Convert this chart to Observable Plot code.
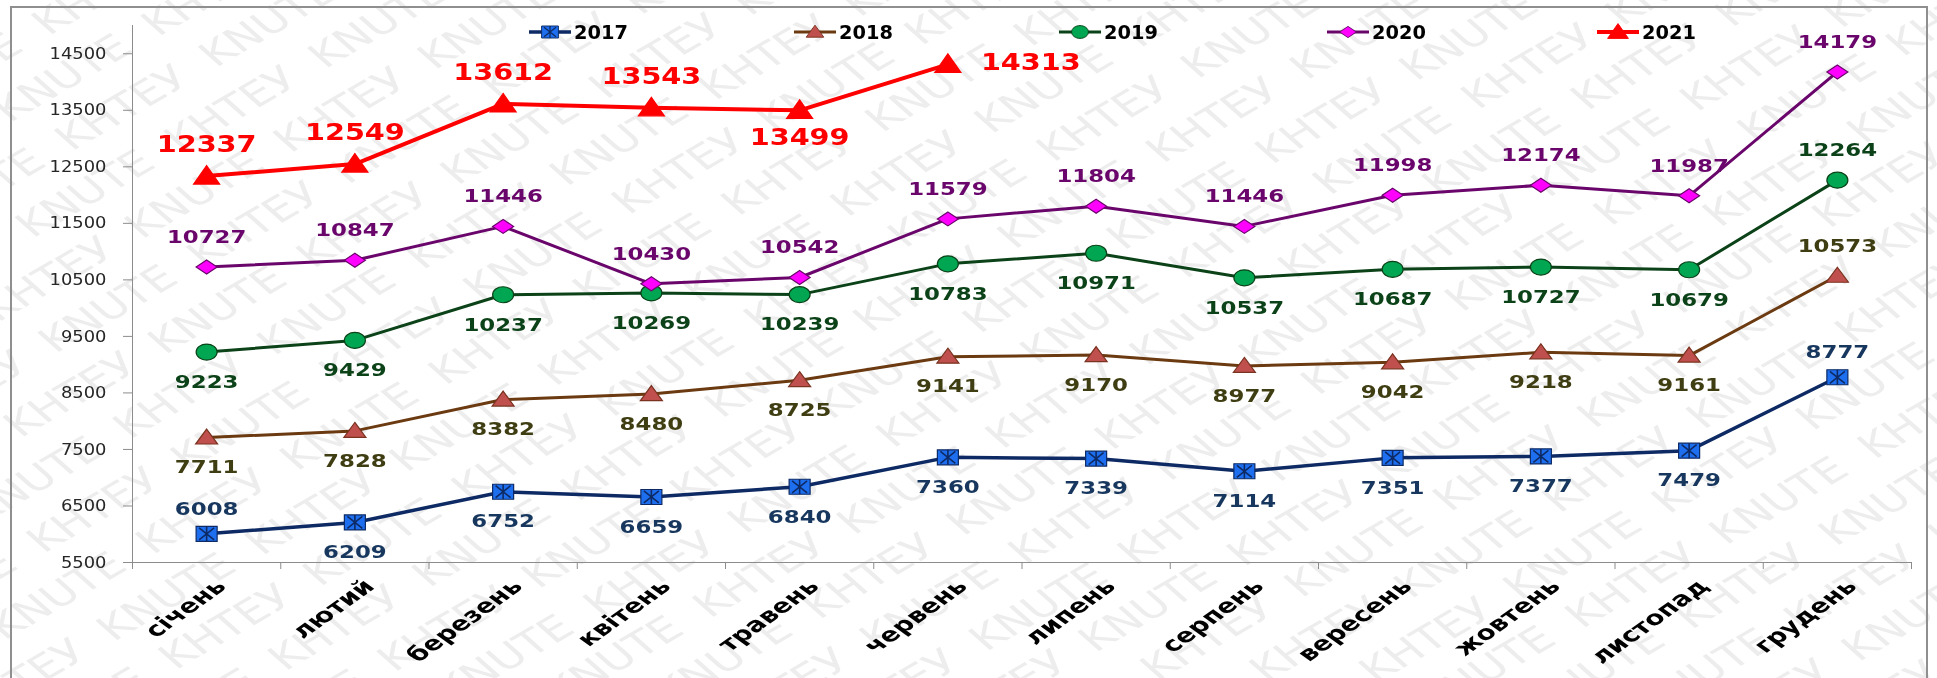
<!DOCTYPE html>
<html><head><meta charset="utf-8">
<script src="https://cdn.jsdelivr.net/npm/d3@7"></script>
<script src="https://cdn.jsdelivr.net/npm/@observablehq/plot@0.6"></script>
<style>
body{margin:0;background:#fff;width:1937px;height:678px;overflow:hidden;position:relative;font-family:"DejaVu Sans",Verdana,sans-serif}
#wm{position:absolute;left:0;top:0}
#frame{position:absolute;left:10px;top:6px;width:1914px;height:700px;border:2px solid #8f8f8f;border-bottom:none}
#chart{position:absolute;left:0;top:0}
#legend{position:absolute;top:19px;left:0;height:26px;width:1937px}
.li{position:absolute;top:0;height:26px}
.li svg{position:absolute;left:0;top:0}
.li span{position:absolute;left:45px;top:1px;font-weight:bold;font-size:19px;line-height:24px;display:inline-block;transform:scaleX(1.02);transform-origin:left center;color:#000;white-space:nowrap}
g[aria-label*="y-axis"] text{fill:#262626;stroke:none}
</style></head><body>
<canvas id="wm" width="1937" height="678"></canvas>
<div id="frame"></div><div id="chart"></div><div id="legend"></div>
<script>
// ---- data ----
const months = ["січень","лютий","березень","квітень","травень","червень","липень","серпень","вересень","жовтень","листопад","грудень"];
const years = ["2017","2018","2019","2020","2021"];
const v2017 = [6008,6209,6752,6659,6840,7360,7339,7114,7351,7377,7479,8777];
const v2018 = [7711,7828,8382,8480,8725,9141,9170,8977,9042,9218,9161,10573];
const v2019 = [9223,9429,10237,10269,10239,10783,10971,10537,10687,10727,10679,12264];
const v2020 = [10727,10847,11446,10430,10542,11579,11804,11446,11998,12174,11987,14179];
const v2021 = [12337,12549,13612,13543,13499,14313];
const yTicks = [5500,6500,7500,8500,9500,10500,11500,12500,13500,14500];
const yDomain = [5500,15000];
const watermarkWords = ["KHTEУ", "KNUTE"];

const series = {"2017": v2017, "2018": v2018, "2019": v2019, "2020": v2020, "2021": v2021};

// ---- watermark (decorative background) ----
{
  const ctx = document.getElementById("wm").getContext("2d");
  ctx.setTransform(1.4, 0, 0, 1, 0, 0);
  ctx.rotate(-39 * Math.PI / 180);
  ctx.fillStyle = "#ededed";
  ctx.font = "34px 'DejaVu Sans'";
  const line = d3.range(24).map(k => watermarkWords[k % 2]).join("  ");
  for (let r = -40; r < 40; r++) ctx.fillText(line, -1400 + ((r % 3) + 3) % 3 * 60, r * 50);
}

// ---- marker shapes ----
function ell(c, rx, ry){const k=0.5523;c.moveTo(rx,0);c.bezierCurveTo(rx,ry*k,rx*k,ry,0,ry);c.bezierCurveTo(-rx*k,ry,-rx,ry*k,-rx,0);c.bezierCurveTo(-rx,-ry*k,-rx*k,-ry,0,-ry);c.bezierCurveTo(rx*k,-ry,rx,-ry*k,rx,0);c.closePath();}
const symSquare = {draw(c){c.rect(-10.5,-7.5,21,15);}};
const symStar = {draw(c){c.moveTo(0,-7.5);c.lineTo(0,7.5);c.moveTo(-7.5,-6);c.lineTo(7.5,6);c.moveTo(-7.5,6);c.lineTo(7.5,-6);}};
const symTri = {draw(c){c.moveTo(0,-8.5);c.lineTo(11,6.5);c.lineTo(-11,6.5);c.closePath();}};
const symCirc = {draw(c){ell(c,10.5,8);}};
const symDiam = {draw(c){c.moveTo(0,-7);c.lineTo(10.5,0);c.lineTo(0,7);c.lineTo(-10.5,0);c.closePath();}};
const symTriBig = {draw(c){c.moveTo(0,-10.5);c.lineTo(13,8);c.lineTo(-13,8);c.closePath();}};

const st = {
  "2017": {line:"#0d2a64", lw:3.5, label:"#17375e", fill:"#1e6ff0", mstroke:"#0d2a64", sym:symSquare, star:true, fs:18, up:-25, down:30},
  "2018": {line:"#6b3a10", lw:3, label:"#3f3d12", fill:"#c0504d", mstroke:"#7a3320", sym:symTri, fs:18, up:-30, down:30},
  "2019": {line:"#0b4218", lw:3, label:"#0b4218", fill:"#00a651", mstroke:"#0b4218", sym:symCirc, fs:18, up:-30, down:30},
  "2020": {line:"#6a066b", lw:3, label:"#6a066b", fill:"#ff00ff", mstroke:"#6a066b", sym:symDiam, fs:18, up:-30, down:30},
  "2021": {line:"#ff0000", lw:4, label:"#ff0000", fill:"#ff0000", mstroke:"#ff0000", sym:symTriBig, fs:23, up:-31, down:27}
};

function place(d){
  if (d.year === "2021" && d.i === 5) return "right";
  if (d.year === "2021" && d.i === 4) return "below";
  if (d.year === "2021" || d.year === "2020") return "above";
  if (d.i === 11) return "above";
  if (d.year === "2017" && d.i === 0) return "above";
  return "below";
}

const rows = years.flatMap(y => series[y].map((v,i) => ({year:y, i, month:months[i], value:v})));
const bounds = d3.range(months.length + 1).map(i => i - 0.5);

const marks = [];
for (const y of years) {
  const s = st[y];
  const data = rows.filter(d => d.year === y);
  marks.push(Plot.line(data, {x:"i", y:"value", stroke:s.line, strokeWidth:s.lw, strokeLinejoin:"round"}));
}
for (const y of years) {
  const s = st[y];
  const data = rows.filter(d => d.year === y);
  marks.push(Plot.dot(data, {x:"i", y:"value", symbol:s.sym, fill:s.fill, stroke:s.mstroke, strokeWidth:1.2}));
  if (s.star) marks.push(Plot.dot(data, {x:"i", y:"value", symbol:symStar, fill:"none", stroke:"#0d2a64", strokeWidth:1.6}));
}
for (const y of years) {
  const s = st[y];
  const data = rows.filter(d => d.year === y);
  const common = {x:"i", y:"value", text:d => String(d.value), fill:s.label, fontSize:s.fs, fontWeight:"bold",
    fontFamily:"DejaVu Sans", lineAnchor:"middle", ariaDescription: y === "2021" ? "val-red" : "val"};
  const up = data.filter(d => place(d) === "above");
  const down = data.filter(d => place(d) === "below");
  const right = data.filter(d => place(d) === "right");
  if (up.length) marks.push(Plot.text(up, {...common, dy:s.up}));
  if (down.length) marks.push(Plot.text(down, {...common, dy:s.down}));
  if (right.length) marks.push(Plot.text(right, {...common, textAnchor:"start", dx:33, dy:-2}));
}
marks.push(Plot.text(months, {x:(d,i) => i, text:d => d, frameAnchor:"bottom", rotate:-45, textAnchor:"end", lineAnchor:"bottom",
  dx:21, dy:25, fontSize:20, fontWeight:"bold", fontFamily:"DejaVu Sans", fill:"#000", ariaDescription:"month-labels"}));

const chart = Plot.plot({
  width:1937, height:678,
  marginLeft:132, marginRight:26, marginTop:25, marginBottom:116,
  style:{background:"transparent", color:"#8c8c8c", fontFamily:"DejaVu Sans", fontSize:"16px", overflow:"visible"},
  x:{domain:[-0.5, months.length - 0.5], ticks:bounds, tickFormat:() => "", tickSize:7, line:true, label:null},
  y:{domain:yDomain, ticks:yTicks, tickFormat:d => String(d), tickSize:9, tickPadding:17, line:true, label:null},
  marks
});
document.getElementById("chart").appendChild(chart);

// horizontal stretch of texts (the source picture is stretched horizontally)
chart.querySelectorAll("text").forEach(t => {
  const gd = t.closest("g[aria-description]");
  const ga = t.closest("g[aria-label]");
  const desc = gd ? gd.getAttribute("aria-description") : "";
  const lab = ga ? ga.getAttribute("aria-label") : "";
  let s = 1;
  if (desc === "month-labels") s = 1.4;
  else if (desc === "val-red") s = 1.25;
  else if (desc === "val") s = 1.27;
  else if (lab.includes("y-axis")) s = 1.12;
  if (s === 1) return;
  const tr = t.getAttribute("transform") || "";
  const m = tr.match(/translate\(\s*([-\d.e]+)[,\s]+([-\d.e]+)\s*\)/);
  const r = tr.match(/rotate\(\s*([-\d.e]+)\s*\)/);
  const tx = m ? m[1] : 0, ty = m ? m[2] : 0;
  t.setAttribute("transform", `translate(${tx},${ty}) scale(${s},1)` + (r ? ` rotate(${r[1]})` : ""));
});

// legend
const legend = document.getElementById("legend");
const legendCenters = [550, 815, 1080, 1348, 1618];
years.forEach((y, k) => {
  const s = st[y];
  const div = document.createElement("div");
  div.className = "li";
  div.style.left = (legendCenters[k] - 21) + "px";
  const p = d3.path(); s.sym.draw(p);
  let extra = "";
  if (s.star) { const q = d3.path(); symStar.draw(q); extra = `<path d="${q}" transform="translate(21,13) scale(0.8)" fill="none" stroke="#0d2a64" stroke-width="1.6"/>`; }
  div.innerHTML = `<svg width="42" height="26"><line x1="0" x2="42" y1="13" y2="13" stroke="${s.line}" stroke-width="${s.lw}"/>` +
    `<path d="${p}" transform="translate(21,13) scale(0.8)" fill="${s.fill}" stroke="${s.mstroke}" stroke-width="1.2"/>${extra}</svg><span>${y}</span>`;
  legend.appendChild(div);
});
</script>
</body></html>
